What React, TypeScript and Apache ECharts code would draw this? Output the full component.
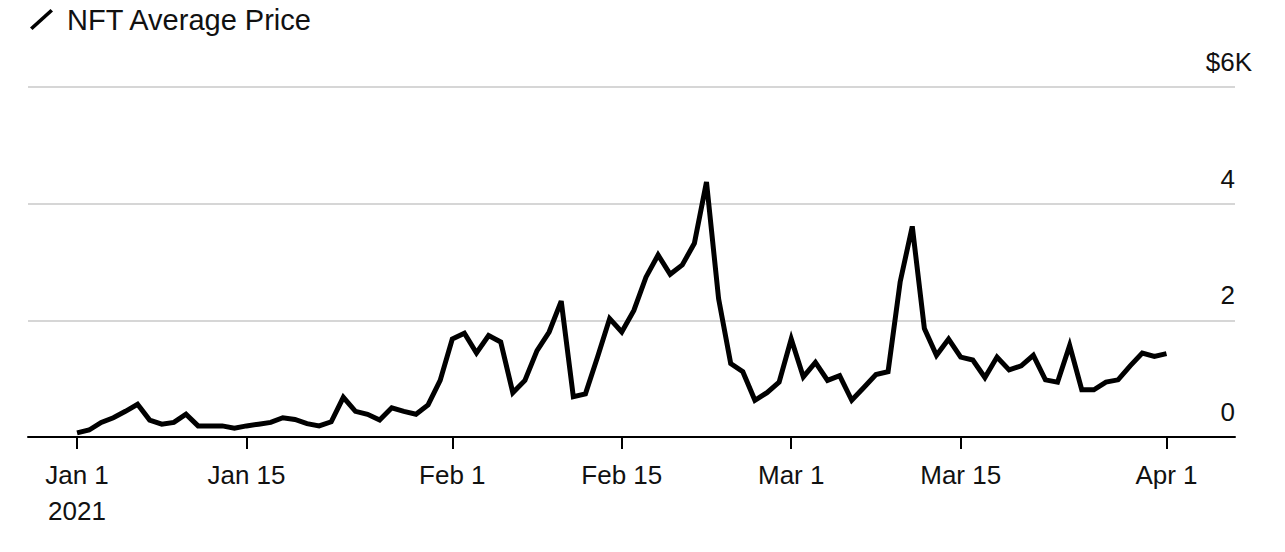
import React, { useEffect, useRef } from 'react';
import * as echarts from 'echarts';

const DAY = 24 * 3600 * 1000;
const START = Date.UTC(2021, 0, 1);

// average NFT price per day, USD, Jan 1 .. Apr 1 2021
const prices = [
  70, 120, 250, 330, 440, 560, 290, 220, 250, 390,
  190, 190, 190, 150, 190, 220, 250, 330, 300, 230,
  190, 260, 680, 440, 390, 290, 500, 440, 390, 550,
  970, 1680, 1780, 1440, 1740, 1630, 760, 970, 1480, 1800,
  2330, 690, 740, 1370, 2030, 1800, 2170, 2740, 3120, 2790,
  2950, 3320, 4370, 2370, 1260, 1120, 630, 760, 940, 1680,
  1030, 1280, 970, 1050, 630, 850, 1070, 1120, 2660, 3610,
  1860, 1400, 1680, 1370, 1320, 1020, 1370, 1150, 1220, 1400,
  980, 940, 1570, 810, 810, 940, 980, 1220, 1440, 1380, 1430,
];

// day number since Jan 1 2021 for each price
const days = prices.map((_, i) => i);

const tickDates = [
  Date.UTC(2021, 0, 1),
  Date.UTC(2021, 0, 15),
  Date.UTC(2021, 1, 1),
  Date.UTC(2021, 1, 15),
  Date.UTC(2021, 2, 1),
  Date.UTC(2021, 2, 15),
  Date.UTC(2021, 3, 1),
];
const tickDays = tickDates.map((t) => Math.round((t - START) / DAY));

const yTicks = [0, 2000, 4000, 6000];

const MONTHS = ['Jan', 'Feb', 'Mar', 'Apr', 'May', 'Jun', 'Jul', 'Aug', 'Sep', 'Oct', 'Nov', 'Dec'];
const FONT = '"Liberation Sans", Arial, sans-serif';
const K_W = 17; // width of the hanging "K" suffix

const App: React.FC = () => {
  const chartRef = useRef<HTMLDivElement>(null);

  useEffect(() => {
    if (!chartRef.current) return;
    const chart = echarts.init(chartRef.current, undefined, { renderer: 'svg' });

    const option: echarts.EChartsOption = {
      animation: false,
      textStyle: { fontFamily: FONT },
      legend: {
        left: 25,
        top: 0,
        itemWidth: 23,
        itemHeight: 21,
        data: [
          {
            name: 'NFT Average Price',
            icon: 'path://M0,18.5 L20.5,0 L23,2.5 L2.5,21 Z',
            itemStyle: { color: '#000' },
          },
        ],
        textStyle: { fontSize: 29, color: '#111', fontFamily: FONT, padding: [0, 0, 0, 9] },
      },
      grid: { left: 28, right: 50, top: 87, bottom: 115 },
      xAxis: {
        type: 'value',
        min: -4.05,
        max: tickDays[tickDays.length - 1] + 5.66,
        splitLine: { show: false },
        axisLine: { lineStyle: { color: '#000', width: 2 } },
        axisTick: {
          show: true,
          length: 12,
          lineStyle: { color: '#000', width: 2 },
          customValues: tickDays,
        },
        axisLabel: {
          customValues: tickDays,
          margin: 20,
          fontSize: 26,
          lineHeight: 36,
          color: '#111',
          fontFamily: FONT,
          formatter: (v: number) => {
            const d = new Date(START + v * DAY);
            const s = `${MONTHS[d.getUTCMonth()]} ${d.getUTCDate()}`;
            return v === 0 ? `${s}\n${d.getUTCFullYear()}` : s;
          },
        },
      },
      yAxis: {
        type: 'value',
        position: 'right',
        min: yTicks[0],
        max: yTicks[yTicks.length - 1],
        interval: 2000,
        axisLine: { show: false },
        axisTick: { show: false },
        splitLine: { lineStyle: { color: '#d6d6d6', width: 2 } },
        axisLabel: {
          inside: false,
          margin: K_W,
          align: 'right',
          verticalAlign: 'bottom',
          fontSize: 26,
          lineHeight: 26,
          padding: [0, 0, 12, 0],
          color: '#111',
          fontFamily: FONT,
          formatter: (v: number) => (v === 6000 ? '$6K' : `${v / 1000}{h| }`),
          rich: {
            h: { width: K_W, fontSize: 26, fontFamily: FONT },
          },
        },
      },
      series: [
        {
          name: 'NFT Average Price',
          type: 'line',
          data: days.map((d, i) => [d, prices[i]]),
          showSymbol: false,
          symbol: 'none',
          lineStyle: { color: '#000', width: 5, join: 'miter', miterLimit: 10 },
          itemStyle: { color: '#000' },
        },
      ],
    };

    chart.setOption(option);
    return () => {
      chart.dispose();
    };
  }, []);

  return (
    <div
      ref={chartRef}
      style={{ position: 'fixed', left: 0, top: 0, width: 1285, height: 552, background: '#fff' }}
    />
  );
};

export default App;
